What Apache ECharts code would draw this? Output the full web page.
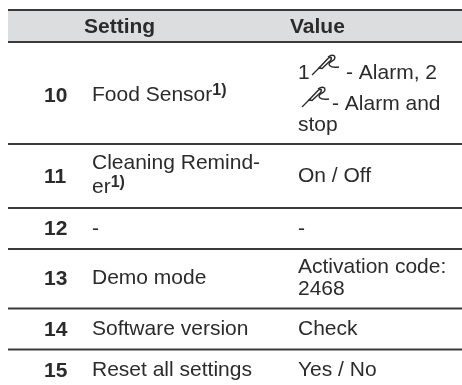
<!DOCTYPE html>
<html><head><meta charset="utf-8">
<style>html,body{margin:0;padding:0;background:#fff}#c{width:462px;height:385px}</style>
<script src="https://cdn.jsdelivr.net/npm/echarts@6/dist/echarts.min.js"></script>
</head><body><div id="c"></div>
<script>
const headers = ['Setting', 'Value'];
const rowNumbers = ['10', '11', '12', '13', '14', '15'];
const settings = [['Food Sensor{sup|1)}'], ['Cleaning Remind-', 'er{sup|1)}'], ['-'], ['Demo mode'], ['Software version'], ['Reset all settings']];
const values = [['1', '- Alarm, 2', '- Alarm and', 'stop'], ['On / Off'], ['-'], ['Activation code:', '2468'], ['Check'], ['Yes / No']];

// layout, in picture pixels
const lineY = [10, 42, 144, 208, 249, 308.5, 349.5];
const numBase = [102, 183, 235, 285, 336, 377];
const setBase = [[101], [169, 193], [235], [284], [335], [376]];
const valBase = [[79, 79, 110, 131], [182], [235], [273, 295], [335], [376]];
const valX = [[298, 346, 332, 298], [298], [298], [298, 298], [298], [298]];
const iconPos = [[312, 55], [302, 87]];
const numX = 44, setX = 92, headBase = 33;
const ink = '#2b2b2b';
const FS = 21;
const probeWire = 'M0 20 L8 12';
const probeBody = 'M7 13 L16 3.5 Q18 1.5 19 2.5 Q20 4 18 6 L10 13.5 Z';
const probeHook = 'M16 2 Q20 -1 22.5 1 Q24 4 20 6 Q16 8 17.5 10.5 Q20 13 27 12';

function txt(x, y, style) {
  return { type: 'text', x, y, style: Object.assign({ fill: ink, fontFamily: 'Liberation Sans', fontSize: FS, verticalAlign: 'bottom', lineHeight: 24 }, style) };
}
function renderItem(params, api) {
  const i = params.dataIndex;
  const c = [];
  const P = (x, y) => api.coord([x, y]);
  if (i === 0) {
    const a = P(8, lineY[0]), b = P(462, lineY[1]);
    c.push({ type: 'rect', shape: { x: a[0], y: a[1], width: b[0] - a[0], height: b[1] - a[1] }, style: { fill: '#dcddde' } });
    headers.forEach((h, k) => {
      const p = P(k ? 290 : 84, headBase + 6);
      c.push(txt(p[0], p[1], { text: h, fontWeight: 'bold' }));
    });
    lineY.forEach((y) => {
      const a2 = P(8, y), b2 = P(462, y);
      c.push({ type: 'line', shape: { x1: a2[0], y1: a2[1], x2: b2[0], y2: b2[1] }, style: { stroke: '#3a3a3a', lineWidth: 2 } });
    });
    iconPos.forEach(ip => {
      const p = P(ip[0], ip[1]);
      [[probeWire, null, 1.3], [probeBody, null, 1.5], [probeHook, null, 1.4]].forEach(d => {
        c.push({ type: 'path', x: p[0], y: p[1], shape: { pathData: d[0] }, style: { fill: d[1], stroke: ink, lineWidth: d[2] } });
      });
    });
    return { type: 'group', children: c };
  }
  const r = i - 1;
  const sup = { sup: { fontFamily: 'Liberation Sans', fontSize: 16, fontWeight: 'bold', fill: ink, verticalAlign: 'top', lineHeight: 24 } };
  const n = P(numX, numBase[r] + 6);
  c.push(txt(n[0], n[1], { text: rowNumbers[r], fontWeight: 'bold' }));
  settings[r].forEach((s, k) => {
    const p = P(setX, setBase[r][k] + 6);
    c.push(txt(p[0], p[1], { text: s, rich: sup }));
  });
  values[r].forEach((s, k) => {
    const p = P(valX[r][k], valBase[r][k] + 6);
    c.push(txt(p[0], p[1], { text: s }));
  });
  return { type: 'group', children: c };
}
const chart = echarts.init(document.getElementById('c'), null, { renderer: 'canvas' });
chart.setOption({
  animation: false,
  backgroundColor: '#fff',
  grid: { left: 0, right: 0, top: 0, bottom: 0 },
  xAxis: { type: 'value', min: 0, max: 462, show: false },
  yAxis: { type: 'value', min: 0, max: 385, inverse: true, show: false },
  series: [{ type: 'custom', coordinateSystem: 'cartesian2d', clip: false, silent: true, renderItem,
    encode: { x: 0, y: 1 },
    data: [[0, 0]].concat(rowNumbers.map(n => [0, Number(n)])) }]
});
</script></body></html>
